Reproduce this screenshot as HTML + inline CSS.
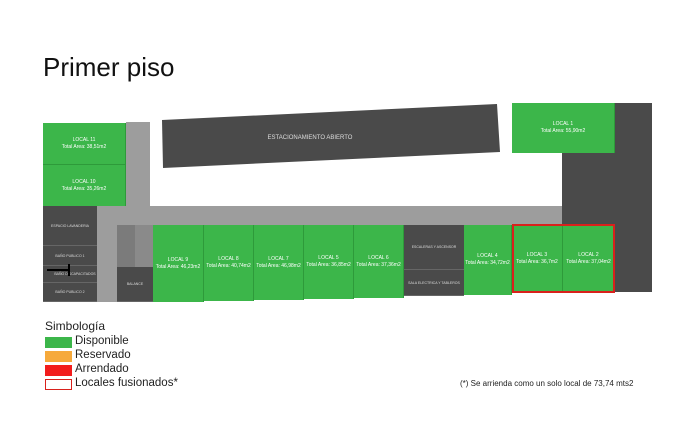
<!DOCTYPE html>
<html><head><meta charset="utf-8"><style>
body{margin:0;width:680px;height:439px;background:#fff;overflow:hidden;font-family:"Liberation Sans",sans-serif;position:relative}
.a{position:absolute}
.g{position:absolute;background:#3cb64a;color:#fff;font-size:5px;text-align:center;display:flex;flex-direction:column;justify-content:center;box-sizing:border-box;border-right:1px solid #2e9a3a;line-height:7px}
.d{position:absolute;background:#4a4a4a;color:#ddd;font-size:3.5px;display:flex;align-items:center;justify-content:center;box-sizing:border-box;border-bottom:1px solid #666}
.lg{position:absolute;left:45px;width:27px;height:11px}
.lt{position:absolute;left:75px;font-size:11.5px;color:#222}
</style></head><body>
<div class="a" style="left:43px;top:52px;font-size:26px;color:#111">Primer piso</div>
<!-- gray corridors -->
<div class="a" style="left:126px;top:122px;width:24px;height:90px;background:#9d9d9d"></div>
<div class="a" style="left:97px;top:206px;width:465px;height:19px;background:#9d9d9d"></div>
<div class="a" style="left:97px;top:206px;width:20px;height:96px;background:#9d9d9d"></div>
<!-- parking -->
<svg class="a" style="left:0;top:0" width="680" height="439"><polygon points="162,120 497,104 500,152 163,168" fill="#4a4a4a"/>
<text x="310" y="139" font-size="6" fill="#ddd" text-anchor="middle" font-family="Liberation Sans">ESTACIONAMIENTO ABIERTO</text></svg>
<!-- left greens -->
<div class="g" style="left:43px;top:123px;width:83px;height:42px;border-bottom:1px solid #2e9a3a">LOCAL 11<br>Total Area: 38,51m2</div>
<div class="g" style="left:43px;top:165px;width:83px;height:41px">LOCAL 10<br>Total Area: 35,26m2</div>
<div class="d" style="left:43px;top:206px;width:54px;height:40px">ESPACIO LAVANDERIA</div>
<div class="d" style="left:43px;top:246px;width:54px;height:20px">BAÑO PUBLICO 1</div>
<div class="d" style="left:43px;top:266px;width:54px;height:17px;padding-left:10px">BAÑO DISCAPACITADOS</div>
<div class="d" style="left:43px;top:283px;width:54px;height:19px">BAÑO PUBLICO 2</div>
<div class="a" style="left:47px;top:269px;width:22px;height:2px;background:#000"></div>
<div class="a" style="left:68px;top:264px;width:2px;height:12px;background:#000"></div>
<div class="a" style="left:117px;top:225px;width:18px;height:42px;background:#7b7b7b"></div>
<div class="a" style="left:135px;top:225px;width:18px;height:42px;background:#8a8a8a"></div>
<div class="d" style="left:117px;top:267px;width:36px;height:35px">BALANCE</div>
<!-- row greens -->
<div class="g" style="left:153px;top:225px;width:51px;height:77px">LOCAL 9<br>Total Area: 46,23m2</div>
<div class="g" style="left:204px;top:225px;width:50px;height:76px">LOCAL 8<br>Total Area: 40,74m2</div>
<div class="g" style="left:254px;top:225px;width:50px;height:75px">LOCAL 7<br>Total Area: 46,98m2</div>
<div class="g" style="left:304px;top:225px;width:50px;height:74px">LOCAL 5<br>Total Area: 36,85m2</div>
<div class="g" style="left:354px;top:225px;width:50px;height:73px">LOCAL 6<br>Total Area: 37,36m2</div>
<div class="d" style="left:404px;top:225px;width:60px;height:45px">ESCALERAS Y ASCENSOR</div>
<div class="d" style="left:404px;top:270px;width:60px;height:26px">SALA ELECTRICA Y TABLEROS</div>
<div class="g" style="left:464px;top:225px;width:48px;height:70px">LOCAL 4<br>Total Area: 34,72m2</div>
<!-- right -->
<div class="a" style="left:562px;top:103px;width:90px;height:189px;background:#4a4a4a"></div>
<div class="g" style="left:512px;top:103px;width:103px;height:50px">LOCAL 1<br>Total Area: 55,90m2</div>
<div class="g" style="left:512px;top:225px;width:51px;height:68px">LOCAL 3<br>Total Area: 36,7m2</div>
<div class="g" style="left:563px;top:225px;width:52px;height:68px">LOCAL 2<br>Total Area: 37,04m2</div>
<div class="a" style="left:512px;top:224px;width:103px;height:69px;border:2px solid #d9211c;box-sizing:border-box"></div>
<!-- legend -->
<div class="a" style="left:45px;top:319px;font-size:12px;color:#222">Simbología</div>
<div class="lg" style="top:337px;background:#3cb64a"></div><div class="lt" style="top:335px">Disponible</div>
<div class="lg" style="top:351px;background:#f6a93b"></div><div class="lt" style="top:349px">Reservado</div>
<div class="lg" style="top:365px;background:#f21c1c"></div><div class="lt" style="top:363px">Arrendado</div>
<div class="lg" style="top:379px;border:1px solid #d9211c;box-sizing:border-box"></div><div class="lt" style="top:377px">Locales fusionados*</div>
<div class="a" style="left:460px;top:379px;font-size:8px;color:#222">(*) Se arrienda como un solo local de 73,74 mts2</div>
</body></html>
